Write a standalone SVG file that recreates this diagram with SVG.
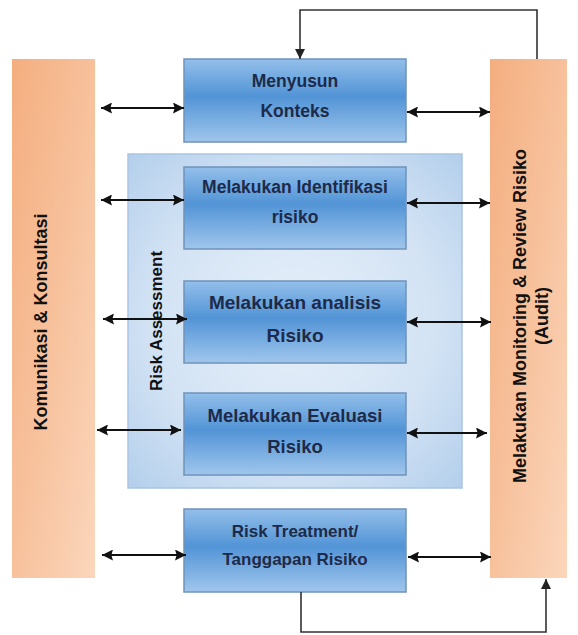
<svg xmlns="http://www.w3.org/2000/svg" width="578" height="635" viewBox="0 0 578 635">
  <defs>
    <linearGradient id="gBox" x1="0" y1="0" x2="0" y2="1">
      <stop offset="0" stop-color="#93bfea"/>
      <stop offset="0.45" stop-color="#5294d6"/>
      <stop offset="1" stop-color="#a0c6ec"/>
    </linearGradient>
    <radialGradient id="gCont" cx="0.5" cy="0.5" r="0.7">
      <stop offset="0" stop-color="#e6eff9"/>
      <stop offset="0.6" stop-color="#d3e3f4"/>
      <stop offset="1" stop-color="#b4cfec"/>
    </radialGradient>
    <linearGradient id="gOrange" x1="0" y1="0" x2="1" y2="1">
      <stop offset="0" stop-color="#f4ae7f"/>
      <stop offset="0.5" stop-color="#f7c19c"/>
      <stop offset="1" stop-color="#fbd6bc"/>
    </linearGradient>
    <marker id="ah" viewBox="0 0 10 10" refX="10" refY="5" markerWidth="12" markerHeight="11" markerUnits="userSpaceOnUse" orient="auto-start-reverse">
      <path d="M0,0 L10,5 L0,10 L1.5,5 z" fill="#111"/>
    </marker>
    <marker id="ahg" viewBox="0 0 10 10" refX="10" refY="5" markerWidth="11" markerHeight="10" markerUnits="userSpaceOnUse" orient="auto-start-reverse">
      <path d="M0,0 L10,5 L0,10 z" fill="#222"/>
    </marker>
  </defs>
  <style>
    .box { fill: url(#gBox); stroke: #6f92ba; stroke-width: 1.5; }
    .bar { fill: url(#gOrange); stroke: none; }
    .cont { fill: url(#gCont); stroke: #aac5e2; stroke-width: 1.5; }
    .bt { font-family: "Liberation Sans", Arial, sans-serif; font-weight: bold; fill: #1d2a48; text-anchor: middle; }
    .st { font-family: "Liberation Sans", Arial, sans-serif; font-weight: bold; fill: #111; text-anchor: middle; }
    .arr { stroke: #111; stroke-width: 1.8; fill: none; marker-start: url(#ah); marker-end: url(#ah); }
    .fb { stroke: #333; stroke-width: 1.6; fill: none; marker-end: url(#ahg); }
  </style>

  <g id="risk-assessment">
    <rect class="cont" x="128" y="154" width="334" height="334"/>
    <text class="st" font-size="17" transform="translate(162,321) rotate(-90)">Risk Assessment</text>
  </g>

  <g id="komunikasi">
    <rect class="bar" x="12" y="59" width="83" height="519"/>
    <text class="st" font-size="18" transform="translate(47,322) rotate(-90)">Komunikasi &amp; Konsultasi</text>
  </g>

  <g id="monitoring">
    <rect class="bar" x="490" y="59" width="77" height="519"/>
    <text class="st" font-size="18" transform="translate(526,316) rotate(-90)">Melakukan Monitoring &amp; Review Risiko</text>
    <text class="st" font-size="18" transform="translate(548,316) rotate(-90)">(Audit)</text>
  </g>

  <g id="menyusun">
    <rect class="box" x="184" y="59" width="222" height="83"/>
    <text class="bt" font-size="17.5" x="295" y="87">Menyusun</text>
    <text class="bt" font-size="17.5" x="295" y="117">Konteks</text>
  </g>

  <g id="identifikasi">
    <rect class="box" x="184" y="167" width="222" height="82"/>
    <text class="bt" font-size="17.5" x="295" y="193">Melakukan Identifikasi</text>
    <text class="bt" font-size="17.5" x="295" y="223">risiko</text>
  </g>

  <g id="analisis">
    <rect class="box" x="184" y="281" width="222" height="82"/>
    <text class="bt" font-size="19" x="295" y="309">Melakukan analisis</text>
    <text class="bt" font-size="19" x="295" y="342">Risiko</text>
  </g>

  <g id="evaluasi">
    <rect class="box" x="184" y="393" width="222" height="82"/>
    <text class="bt" font-size="18.5" x="295" y="422">Melakukan Evaluasi</text>
    <text class="bt" font-size="18.5" x="295" y="453">Risiko</text>
  </g>

  <g id="treatment">
    <rect class="box" x="184" y="509" width="222" height="83"/>
    <text class="bt" font-size="17" x="295" y="537">Risk Treatment/</text>
    <text class="bt" font-size="17" x="295" y="565">Tanggapan Risiko</text>
  </g>

  <g id="connectors">
    <line class="arr" x1="101" y1="108" x2="184" y2="108"/>
    <line class="arr" x1="407" y1="112" x2="490" y2="112"/>
    <line class="arr" x1="101" y1="200" x2="184" y2="200"/>
    <line class="arr" x1="407" y1="203" x2="490" y2="203"/>
    <line class="arr" x1="103" y1="319" x2="187" y2="319"/>
    <line class="arr" x1="407" y1="322" x2="491" y2="322"/>
    <line class="arr" x1="97" y1="430" x2="181" y2="430"/>
    <line class="arr" x1="407" y1="433" x2="487" y2="433"/>
    <line class="arr" x1="102" y1="555" x2="186" y2="555"/>
    <line class="arr" x1="408" y1="557" x2="491" y2="557"/>
    <polyline class="fb" points="537,59 537,10 300,10 300,59"/>
    <polyline class="fb" points="301,592 301,632 546,632 546,579"/>
  </g>
</svg>
